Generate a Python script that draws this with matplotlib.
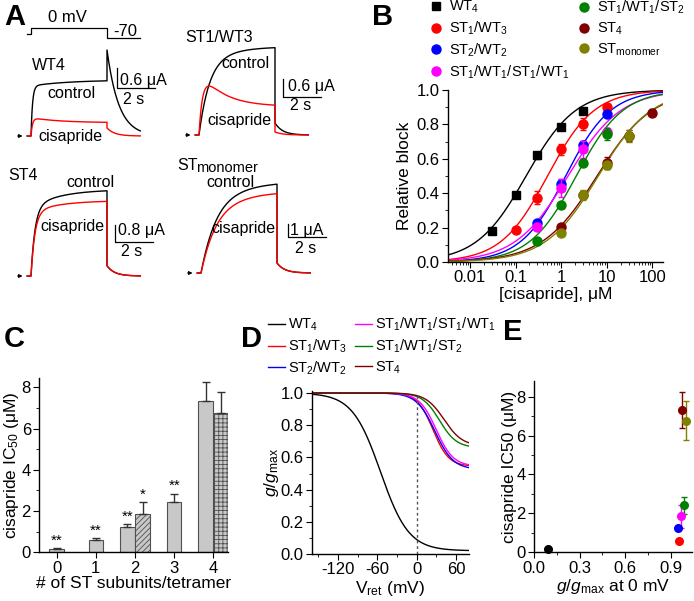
import numpy as np
import matplotlib
matplotlib.use("Agg")
import matplotlib.pyplot as plt
from matplotlib.ticker import MultipleLocator, LogLocator, FuncFormatter, FormatStrFormatter, NullFormatter

plt.rcParams.update({
    "font.family": ["Liberation Sans", "DejaVu Sans"],
    "mathtext.fontset": "custom",
    "mathtext.rm": "Liberation Sans",
    "mathtext.it": "Liberation Sans:italic",
    "mathtext.bf": "Liberation Sans:bold",
    "mathtext.default": "regular",
    "axes.unicode_minus": False,
    "font.size": 12,
    "axes.linewidth": 1.0,
    "hatch.linewidth": 0.6,
    "xtick.major.size": 4, "ytick.major.size": 4,
    "xtick.minor.size": 2, "ytick.minor.size": 2,
    "xtick.major.pad": 2, "ytick.major.pad": 2,
    "xtick.labelsize": 12, "ytick.labelsize": 12,
})

# ---- constructs ----
labels = ["WT$_4$", "ST$_1$/WT$_3$", "ST$_2$/WT$_2$", "ST$_1$/WT$_1$/ST$_1$/WT$_1$",
          "ST$_1$/WT$_1$/ST$_2$", "ST$_4$", "ST$_{monomer}$"]
colors = ["black", "#ff0000", "#0000ff", "#ff00ff", "#008000", "#800000", "#808000"]

# ---- panel A: current traces (fit parameters per construct) ----
trace_names = ["WT4", "ST1/WT3", "ST4", "STmonomer"]
pulse_dur = 4.0
tail_dur = 1.75
ctrl_a0 = [1.50, 2.40, 3.20, 4.50]
ctrl_aend = [1.68, 2.95, 4.07, 7.05]
ctrl_tau_act = [0.08, 0.50, 0.20, 0.60]
ctrl_tau_slow = [2.0, 1.5, 1.5, 1.6]
ctrl_tail = [2.58, 0.40, 0.48, 0.77]
ctrl_tail_tau = [0.62, 0.40, 0.40, 0.40]
cis_a0 = [0.55, 2.20, 3.00, 4.00]
cis_aend = [0.40, 0.95, 3.55, 6.30]
cis_tau_act = [0.08, 0.20, 0.20, 0.60]
cis_tau_slow = [1.5, 1.2, 1.5, 1.6]
cis_tail = [0.24, 0.10, 0.48, 0.77]
cis_tail_tau = [0.40, 0.40, 0.40, 0.40]
scale_uA = [0.6, 0.6, 0.8, 1.0]
prot_t = [-0.2, 0, 0, 4, 4, 5.75]
prot_v = [-40, -40, 0, 0, -70, -70]

# ---- panel B: concentration-response ----
b_conc = [[0.03, 0.1, 0.3, 1, 3],
          [0.1, 0.3, 1, 3, 10],
          [0.3, 1, 3, 10],
          [0.3, 1, 3, 10],
          [0.3, 1, 3, 10],
          [1, 3, 10, 30, 100],
          [1, 3, 10, 30]]
b_block = [[0.18, 0.39, 0.62, 0.785, 0.88],
           [0.185, 0.375, 0.655, 0.805, 0.90],
           [0.225, 0.455, 0.68, 0.862],
           [0.205, 0.43, 0.655, 0.757],
           [0.124, 0.33, 0.577, 0.745],
           [0.205, 0.39, 0.575, 0.735, 0.868],
           [0.168, 0.388, 0.563, 0.735]]
b_err = [[0.01, 0.01, 0.02, 0.02, 0.01],
         [0.01, 0.035, 0.03, 0.035, 0.01],
         [0.015, 0.03, 0.025, 0.01],
         [0.02, 0.05, 0.05, 0.02],
         [0.01, 0.015, 0.02, 0.035],
         [0.01, 0.02, 0.035, 0.03, 0.02],
         [0.015, 0.03, 0.02, 0.035]]
fit_ic50 = [0.17, 0.50, 1.25, 1.41, 2.13, 6.1, 6.5]
fit_nh = [0.80, 0.85, 0.88, 0.75, 0.85, 0.72, 0.75]

# ---- panel C / E ----
n_st = [0, 1, 2, 2, 3, 4, 4]
ic50 = [0.18, 0.60, 1.25, 1.84, 2.42, 7.33, 6.75]
ic50_err = [0.03, 0.08, 0.10, 0.60, 0.43, 0.92, 1.00]
bar_hatch = [None, None, None, "//////", None, None, "++++"]
signif = ["**", "**", "**", "*", "**", "", ""]
g_at_0 = [0.095, 0.955, 0.945, 0.967, 0.987, 0.973, 1.0]

# ---- panel D: Boltzmann fits ----
d_vhalf = [-55, 25, 28, 30, 35, 42]
d_k = [21.5, 12, 14, 13, 13, 14]
d_bottom = [0.02, 0.545, 0.525, 0.545, 0.66, 0.67]

W, H = 694, 601
fig = plt.figure(figsize=(W / 100, H / 100), dpi=100)


def px_rect(l, t, r, b):
    return [l / W, 1 - b / H, (r - l) / W, (b - t) / H]


def P(x, y):
    return x / W, 1 - y / H


def ftext(x, y, s, **kw):
    kw.setdefault("ha", "center")
    kw.setdefault("va", "center")
    kw.setdefault("fontsize", 11.5)
    fig.text(x / W, 1 - y / H, s, **kw)


def clean(ax):
    ax.spines["top"].set_visible(False)
    ax.spines["right"].set_visible(False)


# ================= Panel A =================
pps = 19.0  # pixels per second
anchors = [(31, 136, 20 / 0.6), (199, 135, 18 / 0.6), (31, 276, 17 / 0.8), (201, 273, 13.0)]
bar_corner = [(117, 88), (283, 97), (115, 242), (288, 237)]


def trace_axes(x_step, y0, ppa, up=115, down=12, t0=-1.0, t1=7.0):
    ax = fig.add_axes(px_rect(x_step + t0 * pps, y0 - up, x_step + t1 * pps, y0 + down))
    ax.set_xlim(t0, t1)
    ax.set_ylim(-down / ppa, up / ppa)
    ax.axis("off")
    return ax


def step_current(t, a0, aend, tau_a, tau_s):
    return (1 - np.exp(-t / tau_a)) * (aend + (a0 - aend) * np.exp(-t / tau_s))


t_pre = np.linspace(-0.2, 0, 10)
t_step = np.linspace(0, pulse_dur, 400)
t_tail = np.linspace(0, tail_dur, 200)
t_all = np.concatenate([t_pre, t_step, pulse_dur + t_tail])

for i in range(4):
    x_step, y0, ppa = anchors[i]
    ax = trace_axes(x_step, y0, ppa)
    for a0, ae, ta, ts, tp, tt, col in [
        (ctrl_a0[i], ctrl_aend[i], ctrl_tau_act[i], ctrl_tau_slow[i], ctrl_tail[i], ctrl_tail_tau[i], "black"),
        (cis_a0[i], cis_aend[i], cis_tau_act[i], cis_tau_slow[i], cis_tail[i], cis_tail_tau[i], "#ff0000")]:
        cur = np.concatenate([np.zeros_like(t_pre),
                              step_current(t_step, a0, ae, ta, ts),
                              tp * np.exp(-t_tail / tt)])
        ax.plot(t_all, cur, color=col, lw=1.0, clip_on=False)
    ax.annotate("", xy=(-0.3, 0), xytext=(-0.85, 0),
                arrowprops=dict(arrowstyle="-|>", lw=0.8, color="k", mutation_scale=5))
    cx, cy = bar_corner[i]
    tc, ic = (cx - x_step) / pps, (y0 - cy) / ppa
    ax.plot([tc, tc, tc + 2.0], [ic + scale_uA[i], ic, ic], color="black", lw=0.9, clip_on=False)

# voltage protocol (0 mV at y=28.3 px, 0.134 px per mV)
axp = fig.add_axes(px_rect(31 - pps, 20, 31 + 7 * pps, 45))
axp.set_xlim(-1, 7)
axp.set_ylim(-(45 - 28.3) / 0.134, (28.3 - 20) / 0.134)
axp.axis("off")
axp.plot(prot_t, prot_v, color="black", lw=0.9)

ftext(67, 18, "0 mV", fontsize=12)
ftext(113, 32, "-70", ha="left", fontsize=12)
ftext(32, 66, "WT4", ha="left")
ftext(71, 93, "control")
ftext(70, 136, "cisapride")
ftext(120, 81, "0.6 μA", ha="left")
ftext(134, 100, "2 s")
ftext(185, 38, "ST1/WT3", ha="left")
ftext(245, 63, "control")
ftext(239, 120, "cisapride")
ftext(288, 86, "0.6 μA", ha="left")
ftext(301, 105, "2 s")
ftext(8, 176, "ST4", ha="left")
ftext(90, 183, "control")
ftext(72, 227, "cisapride")
ftext(118, 231, "0.8 μA", ha="left")
ftext(132, 251, "2 s")
ftext(177, 165, "ST", ha="left")
ftext(196.5, 168, "monomer", ha="left", fontsize=10.5)
ftext(230, 183, "control")
ftext(243, 228, "cisapride")
ftext(290, 231, "1 μA", ha="left")
ftext(306, 248, "2 s")

# ================= Panel B =================
axB = fig.add_axes(px_rect(448, 90, 663, 262))
clean(axB)
axB.set_xscale("log")
xmin, xmax = 0.0033, 170
grid = np.logspace(np.log10(xmin), np.log10(xmax), 300)
for i in range(7):
    axB.plot(grid, 1 / (1 + (fit_ic50[i] / grid) ** fit_nh[i]), color=colors[i], lw=1.0)
handles = []
for i in range(7):
    axB.errorbar(b_conc[i], b_block[i], yerr=b_err[i], fmt="none", ecolor=colors[i],
                 elinewidth=1, capsize=2)
    h, = axB.plot(b_conc[i], b_block[i], "s" if i == 0 else "o", color=colors[i],
                  ms=6 if i == 0 else 6.5, ls="none", label=labels[i])
    handles.append(h)
axB.set_xlim(xmin, xmax)
axB.set_ylim(0, 1.0)
axB.xaxis.set_major_locator(LogLocator(base=10, numticks=10))
axB.xaxis.set_minor_locator(LogLocator(base=10, subs=np.arange(2, 10), numticks=20))
axB.xaxis.set_minor_formatter(NullFormatter())
axB.xaxis.set_major_formatter(FuncFormatter(lambda v, p: f"{v:g}"))
axB.yaxis.set_major_locator(MultipleLocator(0.2))
axB.yaxis.set_minor_locator(MultipleLocator(0.1))
axB.yaxis.set_major_formatter(FormatStrFormatter("%.1f"))
axB.set_ylabel("Relative block", fontsize=12.5)
axB.yaxis.set_label_coords((412 - 448) / 215, 0.5)
axB.set_xlabel("[cisapride], μM", fontsize=12.5, labelpad=1)
leg_kw = dict(loc="upper left", bbox_transform=fig.transFigure, frameon=False, fontsize=10.5,
              handlelength=0.8, handletextpad=0.5, labelspacing=0.3, borderpad=0,
              borderaxespad=0)
leg1 = axB.legend(handles=handles[:4], bbox_to_anchor=P(430, -1), **leg_kw)
axB.add_artist(leg1)
axB.legend(handles=handles[4:], bbox_to_anchor=P(578, -1), **leg_kw)

# ================= Panel C =================
axC = fig.add_axes(px_rect(39.3, 378, 228.3, 552.3))
clean(axC)
width = 0.37
counts = {n: n_st.count(n) for n in n_st}
seen = {}
for i in range(7):
    n = n_st[i]
    k = seen.get(n, 0)
    seen[n] = k + 1
    pos = n if counts[n] == 1 else n + (k - 0.5) * (width + 0.02)
    axC.bar(pos, ic50[i], width, color="#c8c8c8", edgecolor="#505050", lw=0.8,
            hatch=bar_hatch[i])
    axC.errorbar(pos, ic50[i], yerr=[[0], [ic50_err[i]]], fmt="none", ecolor="#333333",
                 elinewidth=1, capsize=3)
    if signif[i]:
        axC.text(pos, ic50[i] + ic50_err[i] + 0.02, signif[i], ha="center", va="bottom",
                 fontsize=11)
axC.set_xlim(-0.44, 4.38)
axC.set_ylim(0, 8.45)
axC.set_xticks(range(5))
axC.yaxis.set_major_locator(MultipleLocator(2))
axC.yaxis.set_minor_locator(MultipleLocator(1))
axC.set_ylabel("cisapride IC$_{50}$ (μM)", fontsize=12.5)
axC.yaxis.set_label_coords((21 - 39.3) / 189, 0.5)
axC.set_xlabel("# of ST subunits/tetramer", fontsize=12.5, labelpad=0)

# ================= Panel D =================
axD = fig.add_axes(px_rect(311.7, 391.4, 469, 554))
clean(axD)
V = np.linspace(-160, 80, 300)
for i in range(6):
    g = d_bottom[i] + (1 - d_bottom[i]) / (1 + np.exp((V - d_vhalf[i]) / d_k[i]))
    axD.plot(V, g, color=colors[i], lw=1.0, label=labels[i])
axD.plot([0, 0], [0, 1.0], color="#555555", lw=1.0, ls=(0, (2, 2)))
axD.set_xlim(-160, 80)
axD.set_ylim(0, 1.01)
axD.set_xticks([-120, -60, 0, 60])
axD.xaxis.set_minor_locator(MultipleLocator(30))
axD.yaxis.set_major_locator(MultipleLocator(0.2))
axD.yaxis.set_minor_locator(MultipleLocator(0.1))
axD.yaxis.set_major_formatter(FormatStrFormatter("%.1f"))
axD.set_ylabel(r"$\mathit{g}/\mathit{g}_\mathrm{max}$", fontsize=12.5)
axD.yaxis.set_label_coords((281 - 311.7) / 157.3, 0.5)
axD.set_xlabel(r"V$_\mathrm{ret}$ (mV)", fontsize=12.5, labelpad=1)
axD.legend(loc="upper left", bbox_to_anchor=P(268, 316), bbox_transform=fig.transFigure,
           ncol=2, frameon=False, fontsize=10.5, handlelength=1.15, handletextpad=0.25,
           labelspacing=0.3, columnspacing=0.5, borderpad=0, borderaxespad=0)

# ================= Panel E =================
axE = fig.add_axes(px_rect(534, 381, 692, 552.3))
clean(axE)
for i in range(7):
    axE.errorbar(g_at_0[i], ic50[i], yerr=ic50_err[i], fmt="o", color=colors[i],
                 ms=5.5, elinewidth=1, capsize=2.5, clip_on=False)
axE.set_xlim(0, 1.04)
axE.set_ylim(0, 8.8)
axE.set_xticks([0, 0.3, 0.6, 0.9])
axE.xaxis.set_minor_locator(MultipleLocator(0.15))
axE.xaxis.set_major_formatter(FormatStrFormatter("%.1f"))
axE.yaxis.set_major_locator(MultipleLocator(2))
axE.yaxis.set_minor_locator(MultipleLocator(1))
axE.set_ylabel("cisapride IC50 (μM)", fontsize=12.5)
axE.yaxis.set_label_coords((517 - 534) / 158, 0.5)
axE.set_xlabel(r"$\mathit{g}/\mathit{g}_\mathrm{max}$ at 0 mV", fontsize=12.5, labelpad=1)

# panel letters
for s, x, y in [("A", 4, 25), ("B", 372, 25), ("C", 4, 347), ("D", 241, 347), ("E", 503, 340)]:
    fig.text(x / W, 1 - y / H, s, fontsize=21, fontweight="bold", ha="left", va="baseline")

fig.savefig("out.png", dpi=100)
